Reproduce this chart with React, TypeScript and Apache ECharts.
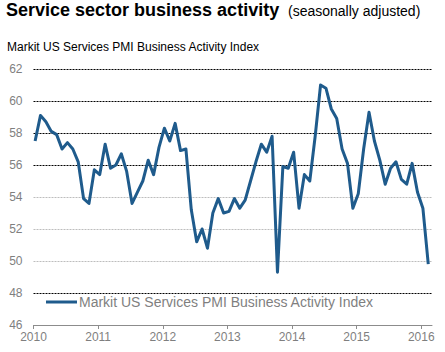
import React, { useEffect, useRef } from "react";
import * as echarts from "echarts";

const seriesName = "Markit US Services PMI Business Activity Index";
const startYear = 2010;
// Monthly values, Jan 2010 - Feb 2016
const pmi2010 = [57.5, 59.1, 58.7, 58.1, 57.9, 57.0, 57.4, 57.0, 56.2, 53.9, 53.6, 55.7];
const pmi2011 = [55.4, 57.3, 55.8, 56.0, 56.7, 55.6, 53.6, 54.3, 55.0, 56.3, 55.4, 57.1];
const pmi2012 = [58.3, 57.5, 58.6, 56.9, 57.0, 53.2, 51.2, 52.0, 50.8, 53.0, 53.9, 53.0];
const pmi2013 = [53.1, 53.9, 53.3, 53.8, 55.0, 56.2, 57.3, 56.8, 57.8, 49.3, 55.9, 55.8];
const pmi2014 = [56.8, 53.3, 55.4, 55.0, 57.8, 61.0, 60.8, 59.5, 58.9, 57.0, 56.1, 53.3];
const pmi2015 = [54.2, 57.0, 59.3, 57.5, 56.3, 54.8, 55.8, 56.2, 55.1, 54.8, 56.1, 54.3];
const pmi2016 = [53.3, 49.8];
const yearTicks = [2010, 2011, 2012, 2013, 2014, 2015, 2016];
const yTicks = [46, 48, 50, 52, 54, 56, 58, 60, 62];

const values = [...pmi2010, ...pmi2011, ...pmi2012, ...pmi2013, ...pmi2014, ...pmi2015, ...pmi2016];

export default function App() {
  const ref = useRef<HTMLDivElement>(null);
  useEffect(() => {
    if (!ref.current) return;
    const chart = echarts.init(ref.current, null, { renderer: "svg" });
    const gridColors = yTicks.map((t) =>
      t === 46 ? "#999999" : t >= 50 && t <= 54 ? "#bdbdbd" : "#000000"
    );
    chart.setOption({
      animation: false,
      backgroundColor: "#ffffff",
      textStyle: { fontFamily: "Liberation Sans, Arial, sans-serif" },
      title: [
        {
          text: "Service sector business activity",
          left: 6,
          top: 1,
          padding: 0,
          textStyle: { fontSize: 18, fontWeight: "bold", color: "#000", fontFamily: "Liberation Sans" },
        },
        {
          text: "(seasonally adjusted)",
          left: 288,
          top: 4,
          padding: 0,
          textStyle: { fontSize: 14, fontWeight: "normal", color: "#000", fontFamily: "Liberation Sans" },
        },
        {
          text: seriesName,
          left: 7,
          top: 41,
          padding: 0,
          textStyle: { fontSize: 12, fontWeight: "normal", color: "#000", fontFamily: "Liberation Sans" },
        },
      ],
      legend: {
        data: [seriesName],
        left: 46,
        top: 295,
        padding: 0,
        icon: "rect",
        itemWidth: 31,
        itemHeight: 3,
        textStyle: { fontSize: 14, color: "#7f7f7f", fontFamily: "Liberation Sans", padding: [0, 0, 0, -3] },
      },
      grid: { left: 33.5, right: 13, top: 69, bottom: 27 },
      xAxis: {
        type: "value",
        min: startYear,
        max: 2016.166,
        interval: 1,
        axisLine: { show: true, lineStyle: { color: "#8c8c8c", width: 1 } },
        axisTick: { show: true, length: 4, lineStyle: { color: "#8c8c8c" }, customValues: yearTicks },
        axisLabel: {
          customValues: yearTicks,
          formatter: (v: number) => String(Math.round(v)),
          color: "#7f7f7f",
          fontSize: 12,
          margin: 6,
          fontFamily: "Liberation Sans",
        },
        splitLine: { show: false },
      },
      yAxis: {
        type: "value",
        min: 46,
        max: 62,
        interval: 2,
        axisLine: { show: false },
        axisTick: { show: false },
        axisLabel: { color: "#7f7f7f", fontSize: 12, margin: 11, fontFamily: "Liberation Sans" },
        splitLine: { show: true, lineStyle: { color: gridColors, type: [2, 1], width: 1 } },
      },
      series: [
        {
          name: seriesName,
          type: "line",
          data: values.map((v, i) => [startYear + (i + 0.3) / 12, v]),
          showSymbol: false,
          symbol: "none",
          color: "#1f5b8c",
          lineStyle: { width: 3, color: "#1f5b8c", join: "round" },
        },
      ],
    });
    return () => chart.dispose();
  }, []);
  return <div ref={ref} style={{ width: 445, height: 352, position: "absolute", left: 0, top: 0 }} />;
}
